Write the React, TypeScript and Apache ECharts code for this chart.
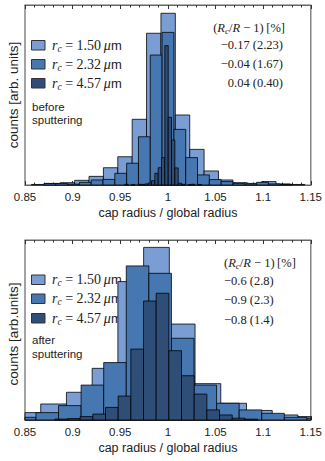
import React, { useEffect, useRef } from "react";
import * as echarts from "echarts";

// ---------- data ----------
const X_MIN = 0.85;
const X_MAX = 1.15;
const xTickInterval = 0.05;

const seriesNames = ["r_c = 1.50 μm", "r_c = 2.32 μm", "r_c = 4.57 μm"];
const radiusLabels = ["1.50", "2.32", "4.57"];
const colors = ["#7a9ed4", "#4677b1", "#2e4e78"];

// before sputtering (top panel)
const beforeLightStart = 0.8568;
const beforeLightWidth = 0.0151;
const beforeLightCounts = [0.3, 0.9, 1.3, 2.6, 4.8, 9.6, 15.7, 36.5, 84.3, 95.4, 38.9, 19.8, 7.8, 2.8, 1.3, 0.9, 1.9, 0.6, 0.3];

const beforeMidStart = 0.8699;
const beforeMidWidth = 0.0124;
const beforeMidCounts = [0.8, 0.8, 0.5, 1.5, 2.8, 3.1, 6.5, 12.1, 26.8, 72.2, 84.8, 30.9, 15.2, 5.6, 3.0, 1.9, 0.9, 0.6, 1.5, 0.6, 0.3];

const beforeDarkStart = 0.9548;
const beforeDarkWidth = 0.0035;
const beforeDarkCounts = [0.4, 0, 0.3, 0, 0.4, 0.3, 0.6, 1.1, 2.4, 6.5, 9.6, 15.2, 77.4, 37.6, 25.0, 9.5, 1.0, 0.4, 0, 0.3, 0.4, 0, 0.3];

const beforeStats = ["−0.17 (2.23)", "−0.04 (1.67)", "0.04 (0.40)"];

// after sputtering (bottom panel)
const afterLightStart = 0.8395;
const afterLightWidth = 0.027;
const afterLightCounts = [4.1, 8.9, 15.4, 28.7, 76.9, 95.9, 53.3, 20.2, 9.3, 5.3, 2.8, 1.9];

const afterMidStart = 0.8378;
const afterMidWidth = 0.0237;
const afterMidCounts = [1.5, 4.1, 8.0, 19.4, 31.9, 85.6, 81.5, 45.4, 19.4, 9.3, 5.6, 3.7, 1.5, 1.0];

const afterDarkStart = 0.8813;
const afterDarkWidth = 0.0133;
const afterDarkCounts = [0.5, 0.8, 1.9, 3.3, 7.0, 13.3, 39.4, 66.1, 70.4, 38.5, 24.6, 14.4, 5.6, 2.8, 1.0, 0.5];

const afterStats = ["−0.6 (2.8)", "−0.9 (2.3)", "−0.8 (1.4)"];

// ---------- helpers ----------
const toBins = (start: number, width: number, counts: number[]) =>
  counts.map((c, i) => [start + i * width, start + (i + 1) * width, c]);

const SANS = "'Liberation Sans', Arial, sans-serif";
const SERIF = "'Liberation Serif', 'Times New Roman', serif";

function histSeries(name: string, idx: number, bins: number[][], color: string) {
  return {
    type: "custom",
    name,
    xAxisIndex: idx * 2,
    yAxisIndex: idx,
    data: bins,
    encode: { x: [0, 1], y: 2 },
    renderItem: (params: any, api: any) => {
      const x0 = Math.max(api.value(0), X_MIN);
      const x1 = Math.min(api.value(1), X_MAX);
      const h = api.value(2);
      if (!(h > 0) || x1 <= x0) return { type: "group", children: [] };
      const p0 = api.coord([x0, h]);
      const p1 = api.coord([x1, 0]);
      return {
        type: "rect",
        shape: { x: p0[0], y: p0[1], width: p1[0] - p0[0], height: p1[1] - p0[1] },
        style: { fill: color, stroke: "rgba(0,0,0,0.78)", lineWidth: 1 },
      };
    },
  };
}

function xAxes(gridIndex: number) {
  const common = {
    gridIndex,
    type: "value",
    min: X_MIN,
    max: X_MAX,
    interval: xTickInterval,
    splitLine: { show: false },
    axisLine: { show: true, lineStyle: { color: "#666", width: 1.2 } },
    axisTick: { show: true, inside: true, length: 4, lineStyle: { color: "#333" } },
    minorTick: { show: true, splitNumber: 5, length: 2.5, lineStyle: { color: "#333" } },
  };
  return [
    {
      ...common,
      position: "bottom",
      axisLabel: {
        show: true,
        margin: 6,
        fontFamily: SANS,
        fontSize: 11.5,
        color: "#222",
        formatter: (v: number) => String(Number(v.toFixed(2))),
      },
      name: "cap radius / global radius",
      nameLocation: "middle",
      nameGap: 21,
      nameTextStyle: { fontFamily: SANS, fontSize: 12.5, color: "#222" },
    },
    { ...common, position: "top", axisLabel: { show: false } },
  ];
}

function legendGraphics(rowYs: number[], sputterYs: number[], sputterWord: string) {
  const els: any[] = [];
  rowYs.forEach((y, i) => {
    els.push({
      type: "rect",
      shape: { x: 31.5, y: y - 4.5, width: 13.5, height: 9.5 },
      style: { fill: colors[i], stroke: "#333", lineWidth: 1 },
    });
    els.push({
      type: "text",
      x: 52,
      y,
      style: {
        text: `{i|r}{s|c}{n| = ${radiusLabels[i]}\u2009}{i|μ}{m|m}`,
        verticalAlign: "middle",
        align: "left",
        fill: "#222",
        rich: {
          i: { fontFamily: SERIF, fontStyle: "italic", fontSize: 14, lineHeight: 17, fill: "#222" },
          s: { fontFamily: SERIF, fontStyle: "italic", fontSize: 9.5, lineHeight: 9.5, verticalAlign: "bottom", fill: "#222" },
          n: { fontFamily: SERIF, fontSize: 14, lineHeight: 17, fill: "#222" },
          m: { fontFamily: SANS, fontSize: 13, lineHeight: 17, fill: "#222" },
        },
      },
    });
  });
  els.push({
    type: "text",
    x: 32,
    y: sputterYs[0],
    style: { text: sputterWord, fontFamily: SANS, fontSize: 11.5, fill: "#222", verticalAlign: "middle" },
  });
  els.push({
    type: "text",
    x: 32,
    y: sputterYs[1],
    style: { text: "sputtering", fontFamily: SANS, fontSize: 11.5, fill: "#222", verticalAlign: "middle" },
  });
  return els;
}

const headerRich = {
  i: { fontFamily: SERIF, fontStyle: "italic", fontSize: 12.5, lineHeight: 15, fill: "#222" },
  s: { fontFamily: SERIF, fontStyle: "italic", fontSize: 9, lineHeight: 9, verticalAlign: "bottom", fill: "#222" },
  n: { fontFamily: SERIF, fontSize: 12.5, lineHeight: 15, fill: "#222" },
};
const headerText = "{n|(}{i|R}{s|c}{n|/}{i|R}{n| − 1)\u2009[%]}";

function statsGraphics(headerY: number, rowYs: number[], stats: string[], x: number, align: string) {
  const els: any[] = [];
  els.push({
    type: "text",
    x: align === "right" ? x + 2 : x,
    y: headerY,
    style: { text: headerText, rich: headerRich, align, verticalAlign: "middle", fill: "#222" },
  });
  rowYs.forEach((y, i) => {
    els.push({
      type: "text",
      x,
      y,
      style: { text: stats[i], fontFamily: SERIF, fontSize: 12.5, fill: "#222", align, verticalAlign: "middle" },
    });
  });
  return els;
}

export default function App() {
  const ref = useRef<HTMLDivElement>(null);
  useEffect(() => {
    if (!ref.current) return;
    const chart = echarts.init(ref.current, null, { renderer: "svg" });
    const option: any = {
      animation: false,
      backgroundColor: "#fff",
      grid: [
        { left: 25, top: 5, width: 288, height: 180, show: true, borderColor: "#666", borderWidth: 1.2, backgroundColor: "transparent" },
        { left: 25, top: 240, width: 288, height: 180, show: true, borderColor: "#666", borderWidth: 1.2, backgroundColor: "transparent" },
      ],
      xAxis: [...xAxes(0), ...xAxes(1)],
      yAxis: [
        { gridIndex: 0, type: "value", min: 0, max: 100, show: false },
        { gridIndex: 1, type: "value", min: 0, max: 100, show: false },
      ],
      series: [
        histSeries(seriesNames[0] + " before", 0, toBins(beforeLightStart, beforeLightWidth, beforeLightCounts), colors[0]),
        histSeries(seriesNames[1] + " before", 0, toBins(beforeMidStart, beforeMidWidth, beforeMidCounts), colors[1]),
        histSeries(seriesNames[2] + " before", 0, toBins(beforeDarkStart, beforeDarkWidth, beforeDarkCounts), colors[2]),
        histSeries(seriesNames[0] + " after", 1, toBins(afterLightStart, afterLightWidth, afterLightCounts), colors[0]),
        histSeries(seriesNames[1] + " after", 1, toBins(afterMidStart, afterMidWidth, afterMidCounts), colors[1]),
        histSeries(seriesNames[2] + " after", 1, toBins(afterDarkStart, afterDarkWidth, afterDarkCounts), colors[2]),
      ],
      graphic: [
        {
          type: "text",
          x: 13,
          y: 95,
          rotation: Math.PI / 2,
          style: { text: "counts [arb. units]", fontFamily: SANS, fontSize: 13.5, fill: "#222", align: "center", verticalAlign: "middle" },
        },
        {
          type: "text",
          x: 13,
          y: 334,
          rotation: Math.PI / 2,
          style: { text: "counts [arb.units]", fontFamily: SANS, fontSize: 13.5, fill: "#222", align: "center", verticalAlign: "middle" },
        },
        ...legendGraphics([45, 64, 83], [106.5, 119.5], "before"),
        ...legendGraphics([279.5, 298.5, 318], [340, 354], "after"),
        ...statsGraphics(27.5, [45, 64, 83], beforeStats, 283, "right"),
        ...statsGraphics(262.5, [281, 300, 319.5], afterStats, 224, "left"),
      ],
    };
    chart.setOption(option);
    return () => chart.dispose();
  }, []);
  return <div ref={ref} style={{ position: "fixed", left: 0, top: 0, width: 325, height: 461 }} />;
}
